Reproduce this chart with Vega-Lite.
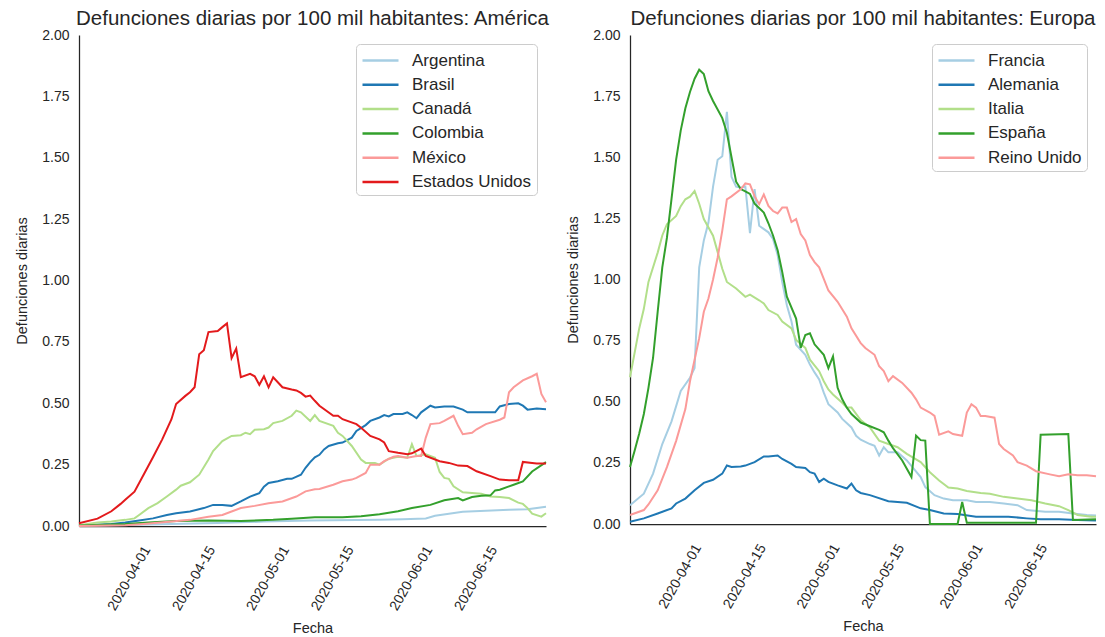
{
"$schema": "https://vega.github.io/schema/vega-lite/v6.json",
"background": "white",
"padding": {"left": 14, "top": 8, "right": 5, "bottom": 2},
"spacing": 15,
"config": {
  "font": "Liberation Sans",
  "view": {"stroke": null},
  "axis": {"grid": false, "ticks": false, "domainColor": "#262626", "domainWidth": 1.25, "labelColor": "#262626", "titleColor": "#262626", "labelFontSize": 14, "titleFontSize": 14.5, "titleFontWeight": "normal", "labelFont": "Liberation Sans", "titleFont": "Liberation Sans"},
  "title": {"fontSize": 20.5, "fontWeight": "normal", "color": "#262626", "font": "Liberation Sans", "anchor": "middle", "offset": -1},
  "legend": {"orient": "top-right", "offset": 9, "title": null, "symbolType": "M-1.8,0H1.8", "symbolSize": 400, "symbolStrokeWidth": 2.5, "symbolOffset": 8, "labelOffset": 20, "labelFontSize": 17, "labelFont": "Liberation Sans", "labelColor": "#262626", "rowPadding": 4.3, "strokeColor": "#cccccc", "fillColor": "white", "cornerRadius": 4, "padding": 5}
},
"datasets": {
"america": [
{"p":"Argentina","f":"2020-03-21","v":0.001},{"p":"Argentina","f":"2020-03-31","v":0.004},{"p":"Argentina","f":"2020-04-10","v":0.008},{"p":"Argentina","f":"2020-04-20","v":0.012},{"p":"Argentina","f":"2020-04-30","v":0.018},{"p":"Argentina","f":"2020-05-10","v":0.022},{"p":"Argentina","f":"2020-05-20","v":0.024},{"p":"Argentina","f":"2020-05-25","v":0.025},{"p":"Argentina","f":"2020-05-30","v":0.027},{"p":"Argentina","f":"2020-06-04","v":0.031},{"p":"Argentina","f":"2020-06-06","v":0.042},{"p":"Argentina","f":"2020-06-09","v":0.05},{"p":"Argentina","f":"2020-06-12","v":0.058},{"p":"Argentina","f":"2020-06-17","v":0.062},{"p":"Argentina","f":"2020-06-22","v":0.066},{"p":"Argentina","f":"2020-06-26","v":0.068},{"p":"Argentina","f":"2020-06-30","v":0.078},
{"p":"Brasil","f":"2020-03-21","v":0.001},{"p":"Brasil","f":"2020-03-28","v":0.008},{"p":"Brasil","f":"2020-03-31","v":0.014},{"p":"Brasil","f":"2020-04-03","v":0.022},{"p":"Brasil","f":"2020-04-06","v":0.031},{"p":"Brasil","f":"2020-04-09","v":0.045},{"p":"Brasil","f":"2020-04-11","v":0.052},{"p":"Brasil","f":"2020-04-14","v":0.059},{"p":"Brasil","f":"2020-04-17","v":0.073},{"p":"Brasil","f":"2020-04-19","v":0.086},{"p":"Brasil","f":"2020-04-21","v":0.086},{"p":"Brasil","f":"2020-04-23","v":0.082},{"p":"Brasil","f":"2020-04-25","v":0.10},{"p":"Brasil","f":"2020-04-27","v":0.12},{"p":"Brasil","f":"2020-04-29","v":0.134},{"p":"Brasil","f":"2020-04-30","v":0.16},{"p":"Brasil","f":"2020-05-01","v":0.175},{"p":"Brasil","f":"2020-05-03","v":0.182},{"p":"Brasil","f":"2020-05-05","v":0.192},{"p":"Brasil","f":"2020-05-06","v":0.192},{"p":"Brasil","f":"2020-05-08","v":0.209},{"p":"Brasil","f":"2020-05-09","v":0.237},{"p":"Brasil","f":"2020-05-10","v":0.26},{"p":"Brasil","f":"2020-05-11","v":0.28},{"p":"Brasil","f":"2020-05-12","v":0.29},{"p":"Brasil","f":"2020-05-13","v":0.312},{"p":"Brasil","f":"2020-05-14","v":0.326},{"p":"Brasil","f":"2020-05-16","v":0.337},{"p":"Brasil","f":"2020-05-17","v":0.34},{"p":"Brasil","f":"2020-05-19","v":0.36},{"p":"Brasil","f":"2020-05-20","v":0.387},{"p":"Brasil","f":"2020-05-22","v":0.411},{"p":"Brasil","f":"2020-05-23","v":0.428},{"p":"Brasil","f":"2020-05-25","v":0.442},{"p":"Brasil","f":"2020-05-26","v":0.452},{"p":"Brasil","f":"2020-05-27","v":0.446},{"p":"Brasil","f":"2020-05-28","v":0.456},{"p":"Brasil","f":"2020-05-30","v":0.456},{"p":"Brasil","f":"2020-05-31","v":0.463},{"p":"Brasil","f":"2020-06-01","v":0.452},{"p":"Brasil","f":"2020-06-02","v":0.439},{"p":"Brasil","f":"2020-06-03","v":0.463},{"p":"Brasil","f":"2020-06-05","v":0.49},{"p":"Brasil","f":"2020-06-06","v":0.483},{"p":"Brasil","f":"2020-06-08","v":0.487},{"p":"Brasil","f":"2020-06-10","v":0.487},{"p":"Brasil","f":"2020-06-12","v":0.474},{"p":"Brasil","f":"2020-06-13","v":0.463},{"p":"Brasil","f":"2020-06-15","v":0.463},{"p":"Brasil","f":"2020-06-17","v":0.463},{"p":"Brasil","f":"2020-06-19","v":0.463},{"p":"Brasil","f":"2020-06-20","v":0.487},{"p":"Brasil","f":"2020-06-22","v":0.497},{"p":"Brasil","f":"2020-06-24","v":0.50},{"p":"Brasil","f":"2020-06-25","v":0.49},{"p":"Brasil","f":"2020-06-26","v":0.474},{"p":"Brasil","f":"2020-06-28","v":0.479},{"p":"Brasil","f":"2020-06-30","v":0.476},
{"p":"Canadá","f":"2020-03-21","v":0.003},{"p":"Canadá","f":"2020-03-25","v":0.014},{"p":"Canadá","f":"2020-03-28","v":0.018},{"p":"Canadá","f":"2020-03-31","v":0.025},{"p":"Canadá","f":"2020-04-02","v":0.031},{"p":"Canadá","f":"2020-04-03","v":0.045},{"p":"Canadá","f":"2020-04-05","v":0.073},{"p":"Canadá","f":"2020-04-07","v":0.093},{"p":"Canadá","f":"2020-04-09","v":0.12},{"p":"Canadá","f":"2020-04-11","v":0.148},{"p":"Canadá","f":"2020-04-12","v":0.164},{"p":"Canadá","f":"2020-04-14","v":0.178},{"p":"Canadá","f":"2020-04-16","v":0.209},{"p":"Canadá","f":"2020-04-18","v":0.271},{"p":"Canadá","f":"2020-04-19","v":0.305},{"p":"Canadá","f":"2020-04-21","v":0.346},{"p":"Canadá","f":"2020-04-23","v":0.367},{"p":"Canadá","f":"2020-04-25","v":0.37},{"p":"Canadá","f":"2020-04-26","v":0.38},{"p":"Canadá","f":"2020-04-27","v":0.374},{"p":"Canadá","f":"2020-04-28","v":0.392},{"p":"Canadá","f":"2020-04-30","v":0.394},{"p":"Canadá","f":"2020-05-01","v":0.401},{"p":"Canadá","f":"2020-05-02","v":0.419},{"p":"Canadá","f":"2020-05-04","v":0.428},{"p":"Canadá","f":"2020-05-06","v":0.449},{"p":"Canadá","f":"2020-05-07","v":0.47},{"p":"Canadá","f":"2020-05-08","v":0.463},{"p":"Canadá","f":"2020-05-10","v":0.428},{"p":"Canadá","f":"2020-05-11","v":0.452},{"p":"Canadá","f":"2020-05-12","v":0.428},{"p":"Canadá","f":"2020-05-15","v":0.408},{"p":"Canadá","f":"2020-05-16","v":0.38},{"p":"Canadá","f":"2020-05-17","v":0.367},{"p":"Canadá","f":"2020-05-19","v":0.326},{"p":"Canadá","f":"2020-05-21","v":0.271},{"p":"Canadá","f":"2020-05-22","v":0.257},{"p":"Canadá","f":"2020-05-24","v":0.257},{"p":"Canadá","f":"2020-05-25","v":0.25},{"p":"Canadá","f":"2020-05-27","v":0.274},{"p":"Canadá","f":"2020-05-29","v":0.282},{"p":"Canadá","f":"2020-05-31","v":0.278},{"p":"Canadá","f":"2020-06-01","v":0.333},{"p":"Canadá","f":"2020-06-02","v":0.285},{"p":"Canadá","f":"2020-06-04","v":0.292},{"p":"Canadá","f":"2020-06-06","v":0.278},{"p":"Canadá","f":"2020-06-07","v":0.22},{"p":"Canadá","f":"2020-06-08","v":0.196},{"p":"Canadá","f":"2020-06-09","v":0.192},{"p":"Canadá","f":"2020-06-10","v":0.162},{"p":"Canadá","f":"2020-06-12","v":0.137},{"p":"Canadá","f":"2020-06-14","v":0.134},{"p":"Canadá","f":"2020-06-16","v":0.131},{"p":"Canadá","f":"2020-06-18","v":0.12},{"p":"Canadá","f":"2020-06-20","v":0.118},{"p":"Canadá","f":"2020-06-22","v":0.114},{"p":"Canadá","f":"2020-06-24","v":0.095},{"p":"Canadá","f":"2020-06-25","v":0.09},{"p":"Canadá","f":"2020-06-26","v":0.073},{"p":"Canadá","f":"2020-06-27","v":0.05},{"p":"Canadá","f":"2020-06-29","v":0.038},{"p":"Canadá","f":"2020-06-30","v":0.052},
{"p":"Colombia","f":"2020-03-21","v":0.002},{"p":"Colombia","f":"2020-03-31","v":0.008},{"p":"Colombia","f":"2020-04-05","v":0.014},{"p":"Colombia","f":"2020-04-11","v":0.02},{"p":"Colombia","f":"2020-04-18","v":0.022},{"p":"Colombia","f":"2020-04-25","v":0.02},{"p":"Colombia","f":"2020-05-02","v":0.025},{"p":"Colombia","f":"2020-05-06","v":0.03},{"p":"Colombia","f":"2020-05-11","v":0.036},{"p":"Colombia","f":"2020-05-17","v":0.036},{"p":"Colombia","f":"2020-05-21","v":0.04},{"p":"Colombia","f":"2020-05-25","v":0.048},{"p":"Colombia","f":"2020-05-29","v":0.06},{"p":"Colombia","f":"2020-06-01","v":0.073},{"p":"Colombia","f":"2020-06-05","v":0.086},{"p":"Colombia","f":"2020-06-08","v":0.105},{"p":"Colombia","f":"2020-06-11","v":0.114},{"p":"Colombia","f":"2020-06-12","v":0.104},{"p":"Colombia","f":"2020-06-14","v":0.118},{"p":"Colombia","f":"2020-06-16","v":0.123},{"p":"Colombia","f":"2020-06-18","v":0.125},{"p":"Colombia","f":"2020-06-19","v":0.145},{"p":"Colombia","f":"2020-06-20","v":0.148},{"p":"Colombia","f":"2020-06-23","v":0.168},{"p":"Colombia","f":"2020-06-25","v":0.182},{"p":"Colombia","f":"2020-06-27","v":0.222},{"p":"Colombia","f":"2020-06-30","v":0.26},
{"p":"México","f":"2020-03-21","v":0.0},{"p":"México","f":"2020-03-31","v":0.003},{"p":"México","f":"2020-04-04","v":0.008},{"p":"México","f":"2020-04-10","v":0.018},{"p":"México","f":"2020-04-14","v":0.025},{"p":"México","f":"2020-04-18","v":0.038},{"p":"México","f":"2020-04-21","v":0.045},{"p":"México","f":"2020-04-23","v":0.059},{"p":"México","f":"2020-04-25","v":0.073},{"p":"México","f":"2020-04-28","v":0.082},{"p":"México","f":"2020-05-01","v":0.093},{"p":"México","f":"2020-05-04","v":0.10},{"p":"México","f":"2020-05-07","v":0.12},{"p":"México","f":"2020-05-09","v":0.141},{"p":"México","f":"2020-05-11","v":0.15},{"p":"México","f":"2020-05-12","v":0.151},{"p":"México","f":"2020-05-15","v":0.168},{"p":"México","f":"2020-05-17","v":0.182},{"p":"México","f":"2020-05-19","v":0.189},{"p":"México","f":"2020-05-20","v":0.196},{"p":"México","f":"2020-05-22","v":0.216},{"p":"México","f":"2020-05-23","v":0.25},{"p":"México","f":"2020-05-25","v":0.25},{"p":"México","f":"2020-05-26","v":0.264},{"p":"México","f":"2020-05-28","v":0.282},{"p":"México","f":"2020-05-29","v":0.285},{"p":"México","f":"2020-05-31","v":0.278},{"p":"México","f":"2020-06-02","v":0.285},{"p":"México","f":"2020-06-03","v":0.285},{"p":"México","f":"2020-06-04","v":0.36},{"p":"México","f":"2020-06-05","v":0.415},{"p":"México","f":"2020-06-07","v":0.419},{"p":"México","f":"2020-06-08","v":0.428},{"p":"México","f":"2020-06-10","v":0.449},{"p":"México","f":"2020-06-11","v":0.408},{"p":"México","f":"2020-06-12","v":0.374},{"p":"México","f":"2020-06-14","v":0.38},{"p":"México","f":"2020-06-15","v":0.394},{"p":"México","f":"2020-06-17","v":0.415},{"p":"México","f":"2020-06-20","v":0.433},{"p":"México","f":"2020-06-21","v":0.442},{"p":"México","f":"2020-06-22","v":0.545},{"p":"México","f":"2020-06-23","v":0.565},{"p":"México","f":"2020-06-25","v":0.593},{"p":"México","f":"2020-06-27","v":0.61},{"p":"México","f":"2020-06-28","v":0.62},{"p":"México","f":"2020-06-29","v":0.538},{"p":"México","f":"2020-06-30","v":0.504},
{"p":"Estados Unidos","f":"2020-03-21","v":0.011},{"p":"Estados Unidos","f":"2020-03-25","v":0.03},{"p":"Estados Unidos","f":"2020-03-28","v":0.06},{"p":"Estados Unidos","f":"2020-03-30","v":0.09},{"p":"Estados Unidos","f":"2020-03-31","v":0.107},{"p":"Estados Unidos","f":"2020-04-02","v":0.14},{"p":"Estados Unidos","f":"2020-04-04","v":0.21},{"p":"Estados Unidos","f":"2020-04-06","v":0.28},{"p":"Estados Unidos","f":"2020-04-08","v":0.353},{"p":"Estados Unidos","f":"2020-04-10","v":0.435},{"p":"Estados Unidos","f":"2020-04-11","v":0.497},{"p":"Estados Unidos","f":"2020-04-13","v":0.53},{"p":"Estados Unidos","f":"2020-04-14","v":0.545},{"p":"Estados Unidos","f":"2020-04-15","v":0.565},{"p":"Estados Unidos","f":"2020-04-16","v":0.70},{"p":"Estados Unidos","f":"2020-04-17","v":0.716},{"p":"Estados Unidos","f":"2020-04-18","v":0.79},{"p":"Estados Unidos","f":"2020-04-20","v":0.794},{"p":"Estados Unidos","f":"2020-04-21","v":0.81},{"p":"Estados Unidos","f":"2020-04-22","v":0.825},{"p":"Estados Unidos","f":"2020-04-23","v":0.684},{"p":"Estados Unidos","f":"2020-04-24","v":0.723},{"p":"Estados Unidos","f":"2020-04-25","v":0.606},{"p":"Estados Unidos","f":"2020-04-27","v":0.62},{"p":"Estados Unidos","f":"2020-04-28","v":0.61},{"p":"Estados Unidos","f":"2020-04-29","v":0.575},{"p":"Estados Unidos","f":"2020-04-30","v":0.61},{"p":"Estados Unidos","f":"2020-05-01","v":0.565},{"p":"Estados Unidos","f":"2020-05-02","v":0.606},{"p":"Estados Unidos","f":"2020-05-04","v":0.565},{"p":"Estados Unidos","f":"2020-05-06","v":0.556},{"p":"Estados Unidos","f":"2020-05-07","v":0.552},{"p":"Estados Unidos","f":"2020-05-08","v":0.542},{"p":"Estados Unidos","f":"2020-05-09","v":0.527},{"p":"Estados Unidos","f":"2020-05-10","v":0.531},{"p":"Estados Unidos","f":"2020-05-11","v":0.51},{"p":"Estados Unidos","f":"2020-05-12","v":0.49},{"p":"Estados Unidos","f":"2020-05-15","v":0.449},{"p":"Estados Unidos","f":"2020-05-16","v":0.449},{"p":"Estados Unidos","f":"2020-05-17","v":0.435},{"p":"Estados Unidos","f":"2020-05-20","v":0.415},{"p":"Estados Unidos","f":"2020-05-21","v":0.40},{"p":"Estados Unidos","f":"2020-05-23","v":0.367},{"p":"Estados Unidos","f":"2020-05-25","v":0.353},{"p":"Estados Unidos","f":"2020-05-26","v":0.34},{"p":"Estados Unidos","f":"2020-05-27","v":0.305},{"p":"Estados Unidos","f":"2020-05-29","v":0.298},{"p":"Estados Unidos","f":"2020-05-31","v":0.292},{"p":"Estados Unidos","f":"2020-06-01","v":0.296},{"p":"Estados Unidos","f":"2020-06-03","v":0.315},{"p":"Estados Unidos","f":"2020-06-04","v":0.285},{"p":"Estados Unidos","f":"2020-06-07","v":0.264},{"p":"Estados Unidos","f":"2020-06-09","v":0.257},{"p":"Estados Unidos","f":"2020-06-11","v":0.246},{"p":"Estados Unidos","f":"2020-06-13","v":0.244},{"p":"Estados Unidos","f":"2020-06-15","v":0.223},{"p":"Estados Unidos","f":"2020-06-18","v":0.203},{"p":"Estados Unidos","f":"2020-06-20","v":0.189},{"p":"Estados Unidos","f":"2020-06-22","v":0.186},{"p":"Estados Unidos","f":"2020-06-24","v":0.186},{"p":"Estados Unidos","f":"2020-06-25","v":0.261},{"p":"Estados Unidos","f":"2020-06-27","v":0.257},{"p":"Estados Unidos","f":"2020-06-28","v":0.255},{"p":"Estados Unidos","f":"2020-06-30","v":0.255}
],
"europa": [
{"p":"Francia","f":"2020-03-21","v":0.077},{"p":"Francia","f":"2020-03-24","v":0.124},{"p":"Francia","f":"2020-03-26","v":0.206},{"p":"Francia","f":"2020-03-28","v":0.327},{"p":"Francia","f":"2020-03-30","v":0.42},{"p":"Francia","f":"2020-04-01","v":0.544},{"p":"Francia","f":"2020-04-03","v":0.598},{"p":"Francia","f":"2020-04-04","v":0.638},{"p":"Francia","f":"2020-04-05","v":1.05},{"p":"Francia","f":"2020-04-06","v":1.16},{"p":"Francia","f":"2020-04-07","v":1.233},{"p":"Francia","f":"2020-04-08","v":1.38},{"p":"Francia","f":"2020-04-09","v":1.49},{"p":"Francia","f":"2020-04-10","v":1.504},{"p":"Francia","f":"2020-04-11","v":1.686},{"p":"Francia","f":"2020-04-12","v":1.42},{"p":"Francia","f":"2020-04-13","v":1.38},{"p":"Francia","f":"2020-04-14","v":1.375},{"p":"Francia","f":"2020-04-15","v":1.38},{"p":"Francia","f":"2020-04-16","v":1.19},{"p":"Francia","f":"2020-04-17","v":1.37},{"p":"Francia","f":"2020-04-18","v":1.22},{"p":"Francia","f":"2020-04-20","v":1.193},{"p":"Francia","f":"2020-04-21","v":1.166},{"p":"Francia","f":"2020-04-22","v":1.1},{"p":"Francia","f":"2020-04-23","v":0.99},{"p":"Francia","f":"2020-04-24","v":0.895},{"p":"Francia","f":"2020-04-25","v":0.828},{"p":"Francia","f":"2020-04-26","v":0.733},{"p":"Francia","f":"2020-04-28","v":0.692},{"p":"Francia","f":"2020-04-29","v":0.652},{"p":"Francia","f":"2020-04-30","v":0.62},{"p":"Francia","f":"2020-05-01","v":0.591},{"p":"Francia","f":"2020-05-02","v":0.537},{"p":"Francia","f":"2020-05-03","v":0.49},{"p":"Francia","f":"2020-05-05","v":0.456},{"p":"Francia","f":"2020-05-06","v":0.43},{"p":"Francia","f":"2020-05-08","v":0.395},{"p":"Francia","f":"2020-05-09","v":0.361},{"p":"Francia","f":"2020-05-10","v":0.345},{"p":"Francia","f":"2020-05-12","v":0.327},{"p":"Francia","f":"2020-05-13","v":0.32},{"p":"Francia","f":"2020-05-14","v":0.28},{"p":"Francia","f":"2020-05-15","v":0.314},{"p":"Francia","f":"2020-05-16","v":0.293},{"p":"Francia","f":"2020-05-18","v":0.293},{"p":"Francia","f":"2020-05-20","v":0.26},{"p":"Francia","f":"2020-05-23","v":0.192},{"p":"Francia","f":"2020-05-24","v":0.151},{"p":"Francia","f":"2020-05-26","v":0.118},{"p":"Francia","f":"2020-05-28","v":0.104},{"p":"Francia","f":"2020-05-30","v":0.097},{"p":"Francia","f":"2020-06-02","v":0.097},{"p":"Francia","f":"2020-06-04","v":0.09},{"p":"Francia","f":"2020-06-07","v":0.09},{"p":"Francia","f":"2020-06-10","v":0.084},{"p":"Francia","f":"2020-06-13","v":0.077},{"p":"Francia","f":"2020-06-15","v":0.057},{"p":"Francia","f":"2020-06-19","v":0.05},{"p":"Francia","f":"2020-06-22","v":0.05},{"p":"Francia","f":"2020-06-25","v":0.043},{"p":"Francia","f":"2020-06-28","v":0.037},{"p":"Francia","f":"2020-06-30","v":0.035},
{"p":"Alemania","f":"2020-03-21","v":0.009},{"p":"Alemania","f":"2020-03-24","v":0.023},{"p":"Alemania","f":"2020-03-27","v":0.043},{"p":"Alemania","f":"2020-03-30","v":0.064},{"p":"Alemania","f":"2020-03-31","v":0.084},{"p":"Alemania","f":"2020-04-02","v":0.104},{"p":"Alemania","f":"2020-04-04","v":0.138},{"p":"Alemania","f":"2020-04-06","v":0.168},{"p":"Alemania","f":"2020-04-08","v":0.181},{"p":"Alemania","f":"2020-04-10","v":0.206},{"p":"Alemania","f":"2020-04-11","v":0.239},{"p":"Alemania","f":"2020-04-12","v":0.233},{"p":"Alemania","f":"2020-04-14","v":0.235},{"p":"Alemania","f":"2020-04-15","v":0.239},{"p":"Alemania","f":"2020-04-17","v":0.253},{"p":"Alemania","f":"2020-04-19","v":0.276},{"p":"Alemania","f":"2020-04-20","v":0.276},{"p":"Alemania","f":"2020-04-22","v":0.28},{"p":"Alemania","f":"2020-04-23","v":0.266},{"p":"Alemania","f":"2020-04-25","v":0.246},{"p":"Alemania","f":"2020-04-26","v":0.233},{"p":"Alemania","f":"2020-04-28","v":0.229},{"p":"Alemania","f":"2020-04-29","v":0.212},{"p":"Alemania","f":"2020-04-30","v":0.206},{"p":"Alemania","f":"2020-05-01","v":0.172},{"p":"Alemania","f":"2020-05-02","v":0.185},{"p":"Alemania","f":"2020-05-03","v":0.172},{"p":"Alemania","f":"2020-05-05","v":0.158},{"p":"Alemania","f":"2020-05-07","v":0.145},{"p":"Alemania","f":"2020-05-08","v":0.165},{"p":"Alemania","f":"2020-05-09","v":0.138},{"p":"Alemania","f":"2020-05-10","v":0.127},{"p":"Alemania","f":"2020-05-12","v":0.118},{"p":"Alemania","f":"2020-05-16","v":0.093},{"p":"Alemania","f":"2020-05-20","v":0.087},{"p":"Alemania","f":"2020-05-23","v":0.064},{"p":"Alemania","f":"2020-05-25","v":0.057},{"p":"Alemania","f":"2020-05-28","v":0.043},{"p":"Alemania","f":"2020-05-31","v":0.041},{"p":"Alemania","f":"2020-06-04","v":0.03},{"p":"Alemania","f":"2020-06-11","v":0.03},{"p":"Alemania","f":"2020-06-15","v":0.023},{"p":"Alemania","f":"2020-06-18","v":0.019},{"p":"Alemania","f":"2020-06-22","v":0.019},{"p":"Alemania","f":"2020-06-26","v":0.016},{"p":"Alemania","f":"2020-06-30","v":0.014},
{"p":"Italia","f":"2020-03-21","v":0.60},{"p":"Italia","f":"2020-03-23","v":0.80},{"p":"Italia","f":"2020-03-24","v":0.88},{"p":"Italia","f":"2020-03-25","v":0.99},{"p":"Italia","f":"2020-03-27","v":1.11},{"p":"Italia","f":"2020-03-28","v":1.18},{"p":"Italia","f":"2020-03-29","v":1.226},{"p":"Italia","f":"2020-03-31","v":1.26},{"p":"Italia","f":"2020-04-01","v":1.30},{"p":"Italia","f":"2020-04-02","v":1.328},{"p":"Italia","f":"2020-04-03","v":1.339},{"p":"Italia","f":"2020-04-04","v":1.362},{"p":"Italia","f":"2020-04-05","v":1.31},{"p":"Italia","f":"2020-04-06","v":1.247},{"p":"Italia","f":"2020-04-08","v":1.179},{"p":"Italia","f":"2020-04-09","v":1.112},{"p":"Italia","f":"2020-04-10","v":1.044},{"p":"Italia","f":"2020-04-11","v":0.99},{"p":"Italia","f":"2020-04-13","v":0.963},{"p":"Italia","f":"2020-04-15","v":0.929},{"p":"Italia","f":"2020-04-16","v":0.938},{"p":"Italia","f":"2020-04-18","v":0.915},{"p":"Italia","f":"2020-04-19","v":0.902},{"p":"Italia","f":"2020-04-20","v":0.875},{"p":"Italia","f":"2020-04-22","v":0.855},{"p":"Italia","f":"2020-04-23","v":0.828},{"p":"Italia","f":"2020-04-25","v":0.80},{"p":"Italia","f":"2020-04-26","v":0.753},{"p":"Italia","f":"2020-04-28","v":0.72},{"p":"Italia","f":"2020-04-29","v":0.672},{"p":"Italia","f":"2020-05-01","v":0.625},{"p":"Italia","f":"2020-05-02","v":0.584},{"p":"Italia","f":"2020-05-03","v":0.55},{"p":"Italia","f":"2020-05-04","v":0.53},{"p":"Italia","f":"2020-05-06","v":0.496},{"p":"Italia","f":"2020-05-07","v":0.476},{"p":"Italia","f":"2020-05-08","v":0.476},{"p":"Italia","f":"2020-05-10","v":0.425},{"p":"Italia","f":"2020-05-12","v":0.395},{"p":"Italia","f":"2020-05-14","v":0.341},{"p":"Italia","f":"2020-05-16","v":0.327},{"p":"Italia","f":"2020-05-18","v":0.314},{"p":"Italia","f":"2020-05-20","v":0.287},{"p":"Italia","f":"2020-05-23","v":0.253},{"p":"Italia","f":"2020-05-25","v":0.212},{"p":"Italia","f":"2020-05-27","v":0.178},{"p":"Italia","f":"2020-05-29","v":0.149},{"p":"Italia","f":"2020-05-31","v":0.145},{"p":"Italia","f":"2020-06-02","v":0.135},{"p":"Italia","f":"2020-06-05","v":0.127},{"p":"Italia","f":"2020-06-07","v":0.124},{"p":"Italia","f":"2020-06-10","v":0.111},{"p":"Italia","f":"2020-06-13","v":0.104},{"p":"Italia","f":"2020-06-16","v":0.097},{"p":"Italia","f":"2020-06-19","v":0.084},{"p":"Italia","f":"2020-06-22","v":0.073},{"p":"Italia","f":"2020-06-24","v":0.057},{"p":"Italia","f":"2020-06-26","v":0.037},{"p":"Italia","f":"2020-06-29","v":0.03},{"p":"Italia","f":"2020-06-30","v":0.03},
{"p":"España","f":"2020-03-21","v":0.233},{"p":"España","f":"2020-03-22","v":0.30},{"p":"España","f":"2020-03-23","v":0.37},{"p":"España","f":"2020-03-24","v":0.45},{"p":"España","f":"2020-03-25","v":0.557},{"p":"España","f":"2020-03-26","v":0.68},{"p":"España","f":"2020-03-27","v":0.868},{"p":"España","f":"2020-03-28","v":1.05},{"p":"España","f":"2020-03-29","v":1.17},{"p":"España","f":"2020-03-30","v":1.33},{"p":"España","f":"2020-03-31","v":1.49},{"p":"España","f":"2020-04-01","v":1.61},{"p":"España","f":"2020-04-02","v":1.70},{"p":"España","f":"2020-04-03","v":1.767},{"p":"España","f":"2020-04-04","v":1.821},{"p":"España","f":"2020-04-05","v":1.858},{"p":"España","f":"2020-04-06","v":1.84},{"p":"España","f":"2020-04-07","v":1.77},{"p":"España","f":"2020-04-08","v":1.73},{"p":"España","f":"2020-04-10","v":1.66},{"p":"España","f":"2020-04-11","v":1.60},{"p":"España","f":"2020-04-12","v":1.50},{"p":"España","f":"2020-04-13","v":1.40},{"p":"España","f":"2020-04-14","v":1.37},{"p":"España","f":"2020-04-15","v":1.36},{"p":"España","f":"2020-04-16","v":1.35},{"p":"España","f":"2020-04-17","v":1.31},{"p":"España","f":"2020-04-19","v":1.274},{"p":"España","f":"2020-04-20","v":1.23},{"p":"España","f":"2020-04-21","v":1.18},{"p":"España","f":"2020-04-22","v":1.12},{"p":"España","f":"2020-04-23","v":1.03},{"p":"España","f":"2020-04-24","v":0.93},{"p":"España","f":"2020-04-26","v":0.84},{"p":"España","f":"2020-04-27","v":0.72},{"p":"España","f":"2020-04-28","v":0.773},{"p":"España","f":"2020-04-29","v":0.78},{"p":"España","f":"2020-04-30","v":0.735},{"p":"España","f":"2020-05-02","v":0.692},{"p":"España","f":"2020-05-03","v":0.638},{"p":"España","f":"2020-05-04","v":0.686},{"p":"España","f":"2020-05-05","v":0.557},{"p":"España","f":"2020-05-06","v":0.51},{"p":"España","f":"2020-05-07","v":0.476},{"p":"España","f":"2020-05-08","v":0.45},{"p":"España","f":"2020-05-10","v":0.415},{"p":"España","f":"2020-05-12","v":0.40},{"p":"España","f":"2020-05-14","v":0.385},{"p":"España","f":"2020-05-15","v":0.375},{"p":"España","f":"2020-05-16","v":0.341},{"p":"España","f":"2020-05-17","v":0.31},{"p":"España","f":"2020-05-19","v":0.26},{"p":"España","f":"2020-05-21","v":0.192},{"p":"España","f":"2020-05-22","v":0.361},{"p":"España","f":"2020-05-23","v":0.343},{"p":"España","f":"2020-05-24","v":0.341},{"p":"España","f":"2020-05-25","v":0.0},{"p":"España","f":"2020-05-31","v":0.0},{"p":"España","f":"2020-06-01","v":0.09},{"p":"España","f":"2020-06-02","v":0.005},{"p":"España","f":"2020-06-17","v":0.005},{"p":"España","f":"2020-06-18","v":0.365},{"p":"España","f":"2020-06-24","v":0.368},{"p":"España","f":"2020-06-25","v":0.016},{"p":"España","f":"2020-06-30","v":0.019},
{"p":"Reino Unido","f":"2020-03-21","v":0.037},{"p":"Reino Unido","f":"2020-03-24","v":0.057},{"p":"Reino Unido","f":"2020-03-25","v":0.08},{"p":"Reino Unido","f":"2020-03-27","v":0.138},{"p":"Reino Unido","f":"2020-03-29","v":0.233},{"p":"Reino Unido","f":"2020-03-31","v":0.34},{"p":"Reino Unido","f":"2020-04-02","v":0.47},{"p":"Reino Unido","f":"2020-04-03","v":0.584},{"p":"Reino Unido","f":"2020-04-05","v":0.76},{"p":"Reino Unido","f":"2020-04-06","v":0.868},{"p":"Reino Unido","f":"2020-04-07","v":0.922},{"p":"Reino Unido","f":"2020-04-08","v":1.0},{"p":"Reino Unido","f":"2020-04-09","v":1.09},{"p":"Reino Unido","f":"2020-04-10","v":1.2},{"p":"Reino Unido","f":"2020-04-11","v":1.328},{"p":"Reino Unido","f":"2020-04-12","v":1.34},{"p":"Reino Unido","f":"2020-04-14","v":1.369},{"p":"Reino Unido","f":"2020-04-15","v":1.393},{"p":"Reino Unido","f":"2020-04-16","v":1.389},{"p":"Reino Unido","f":"2020-04-17","v":1.341},{"p":"Reino Unido","f":"2020-04-18","v":1.308},{"p":"Reino Unido","f":"2020-04-19","v":1.348},{"p":"Reino Unido","f":"2020-04-20","v":1.301},{"p":"Reino Unido","f":"2020-04-21","v":1.28},{"p":"Reino Unido","f":"2020-04-22","v":1.27},{"p":"Reino Unido","f":"2020-04-23","v":1.294},{"p":"Reino Unido","f":"2020-04-24","v":1.294},{"p":"Reino Unido","f":"2020-04-25","v":1.235},{"p":"Reino Unido","f":"2020-04-26","v":1.247},{"p":"Reino Unido","f":"2020-04-27","v":1.186},{"p":"Reino Unido","f":"2020-04-28","v":1.16},{"p":"Reino Unido","f":"2020-04-29","v":1.10},{"p":"Reino Unido","f":"2020-04-30","v":1.071},{"p":"Reino Unido","f":"2020-05-01","v":1.05},{"p":"Reino Unido","f":"2020-05-02","v":1.003},{"p":"Reino Unido","f":"2020-05-03","v":0.955},{"p":"Reino Unido","f":"2020-05-05","v":0.909},{"p":"Reino Unido","f":"2020-05-07","v":0.848},{"p":"Reino Unido","f":"2020-05-08","v":0.80},{"p":"Reino Unido","f":"2020-05-10","v":0.74},{"p":"Reino Unido","f":"2020-05-11","v":0.72},{"p":"Reino Unido","f":"2020-05-13","v":0.692},{"p":"Reino Unido","f":"2020-05-14","v":0.645},{"p":"Reino Unido","f":"2020-05-15","v":0.625},{"p":"Reino Unido","f":"2020-05-16","v":0.584},{"p":"Reino Unido","f":"2020-05-17","v":0.605},{"p":"Reino Unido","f":"2020-05-19","v":0.577},{"p":"Reino Unido","f":"2020-05-21","v":0.537},{"p":"Reino Unido","f":"2020-05-22","v":0.51},{"p":"Reino Unido","f":"2020-05-23","v":0.476},{"p":"Reino Unido","f":"2020-05-25","v":0.456},{"p":"Reino Unido","f":"2020-05-26","v":0.442},{"p":"Reino Unido","f":"2020-05-27","v":0.365},{"p":"Reino Unido","f":"2020-05-29","v":0.379},{"p":"Reino Unido","f":"2020-05-30","v":0.368},{"p":"Reino Unido","f":"2020-06-01","v":0.361},{"p":"Reino Unido","f":"2020-06-02","v":0.456},{"p":"Reino Unido","f":"2020-06-03","v":0.49},{"p":"Reino Unido","f":"2020-06-04","v":0.476},{"p":"Reino Unido","f":"2020-06-05","v":0.442},{"p":"Reino Unido","f":"2020-06-06","v":0.442},{"p":"Reino Unido","f":"2020-06-08","v":0.435},{"p":"Reino Unido","f":"2020-06-09","v":0.327},{"p":"Reino Unido","f":"2020-06-10","v":0.307},{"p":"Reino Unido","f":"2020-06-12","v":0.28},{"p":"Reino Unido","f":"2020-06-13","v":0.253},{"p":"Reino Unido","f":"2020-06-15","v":0.239},{"p":"Reino Unido","f":"2020-06-17","v":0.216},{"p":"Reino Unido","f":"2020-06-20","v":0.203},{"p":"Reino Unido","f":"2020-06-22","v":0.195},{"p":"Reino Unido","f":"2020-06-24","v":0.203},{"p":"Reino Unido","f":"2020-06-26","v":0.199},{"p":"Reino Unido","f":"2020-06-28","v":0.199},{"p":"Reino Unido","f":"2020-06-30","v":0.195}
]
},
"hconcat": [
{
  "width": 467, "height": 491,
  "title": {"text": "Defunciones diarias por 100 mil habitantes: América"},
  "data": {"name": "america"},
  "mark": {"type": "line", "strokeWidth": 2},
  "encoding": {
    "x": {"field": "f", "type": "temporal",
      "scale": {"type": "utc", "domain": [{"year": 2020, "month": 3, "date": 21, "utc": true}, {"year": 2020, "month": 6, "date": 30, "utc": true}]},
      "axis": {"title": "Fecha", "format": "%Y-%m-%d", "labelAngle": -60, "labelAlign": "right", "labelBaseline": "middle", "labelOffset": 17, "labelPadding": 21, "titlePadding": 9,
        "values": [{"year": 2020, "month": 4, "date": 1, "utc": true}, {"year": 2020, "month": 4, "date": 15, "utc": true}, {"year": 2020, "month": 5, "date": 1, "utc": true}, {"year": 2020, "month": 5, "date": 15, "utc": true}, {"year": 2020, "month": 6, "date": 1, "utc": true}, {"year": 2020, "month": 6, "date": 15, "utc": true}]}},
    "y": {"field": "v", "type": "quantitative", "scale": {"domain": [0, 2], "nice": false},
      "axis": {"title": "Defunciones diarias", "values": [0, 0.25, 0.5, 0.75, 1, 1.25, 1.5, 1.75, 2], "format": ".2f", "labelPadding": 10, "titlePadding": 12}},
    "color": {"field": "p", "type": "nominal",
      "scale": {"domain": ["Argentina", "Brasil", "Canadá", "Colombia", "México", "Estados Unidos"], "range": ["#a6cee3", "#1f78b4", "#b2df8a", "#33a02c", "#fb9a99", "#e31a1c"]}}
  }
},
{
  "width": 466, "height": 489,
  "title": {"text": "Defunciones diarias por 100 mil habitantes: Europa"},
  "data": {"name": "europa"},
  "mark": {"type": "line", "strokeWidth": 2},
  "encoding": {
    "x": {"field": "f", "type": "temporal",
      "scale": {"type": "utc", "domain": [{"year": 2020, "month": 3, "date": 21, "utc": true}, {"year": 2020, "month": 6, "date": 30, "utc": true}]},
      "axis": {"title": "Fecha", "format": "%Y-%m-%d", "labelAngle": -60, "labelAlign": "right", "labelBaseline": "middle", "labelOffset": 17, "labelPadding": 21, "titlePadding": 9,
        "values": [{"year": 2020, "month": 4, "date": 1, "utc": true}, {"year": 2020, "month": 4, "date": 15, "utc": true}, {"year": 2020, "month": 5, "date": 1, "utc": true}, {"year": 2020, "month": 5, "date": 15, "utc": true}, {"year": 2020, "month": 6, "date": 1, "utc": true}, {"year": 2020, "month": 6, "date": 15, "utc": true}]}},
    "y": {"field": "v", "type": "quantitative", "scale": {"domain": [0, 2], "nice": false},
      "axis": {"title": "Defunciones diarias", "values": [0, 0.25, 0.5, 0.75, 1, 1.25, 1.5, 1.75, 2], "format": ".2f", "labelPadding": 10, "titlePadding": 12}},
    "color": {"field": "p", "type": "nominal",
      "scale": {"domain": ["Francia", "Alemania", "Italia", "España", "Reino Unido"], "range": ["#a6cee3", "#1f78b4", "#b2df8a", "#33a02c", "#fb9a99"]}}
  }
}
],
"resolve": {"scale": {"color": "independent"}, "legend": {"color": "independent"}}
}
